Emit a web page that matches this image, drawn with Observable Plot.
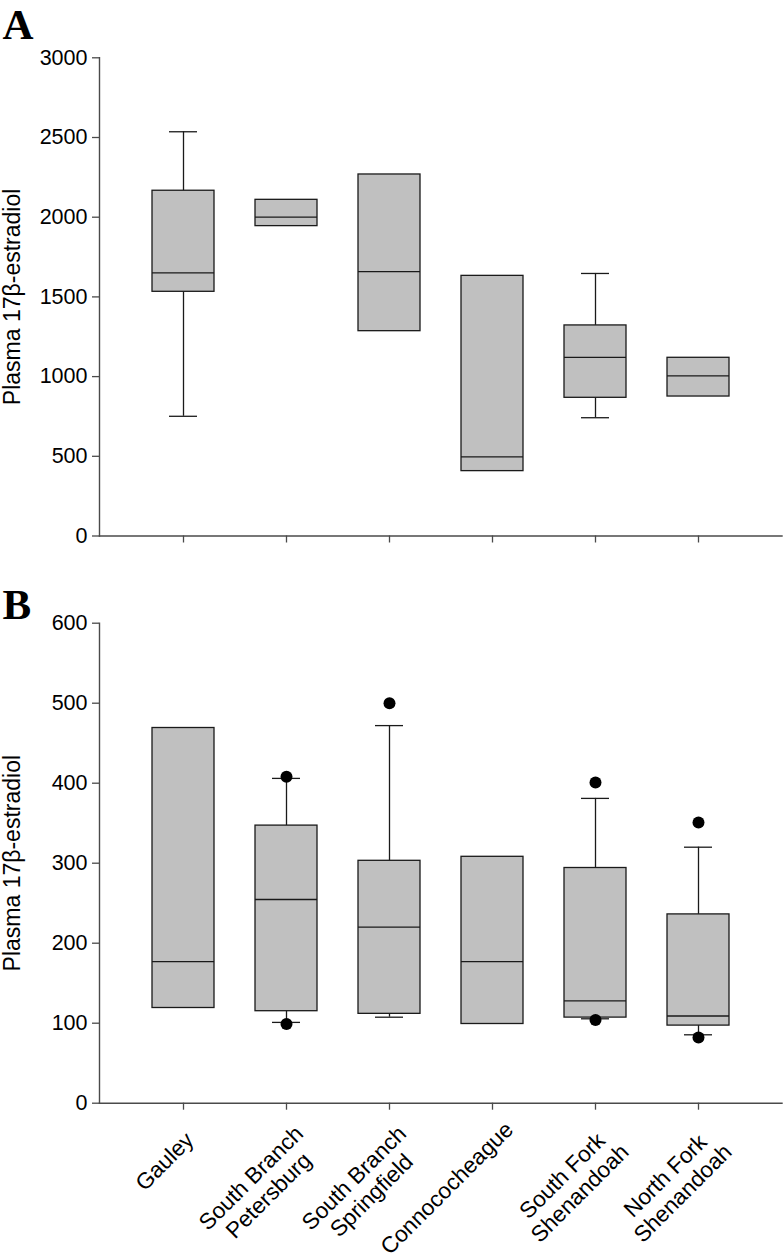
<!DOCTYPE html>
<html>
<head>
<meta charset="utf-8">
<script src="https://cdn.jsdelivr.net/npm/d3@7"></script>
<script src="https://cdn.jsdelivr.net/npm/@observablehq/plot@0.6"></script>
<style>
  html, body { margin: 0; padding: 0; background: #fff; }
  #wrap { position: relative; width: 783px; height: 1258px; overflow: hidden; }
  svg { display: block; }
</style>
</head>
<body>
<div id="wrap"></div>
<script>
// ---- categories ----
const categories = [
  "Gauley",
  "South Branch\nPetersburg",
  "South Branch\nSpringfield",
  "Connococheague",
  "South Fork\nShenandoah",
  "North Fork\nShenandoah"
];

// ---- Panel A values ----
const aMin = [751, null, null, null, 742, null];
const aQ1  = [1532, 1944, 1285, 407, 867, 875];
const aMed = [1651, 2000, 1659, 497, 1120, 1005];
const aQ3  = [2166, 2109, 2268, 1632, 1321, 1118];
const aMax = [2536, null, null, null, 1647, null];
const aOutCat = [];
const aOutVal = [];
const yTicksA = [0, 500, 1000, 1500, 2000, 2500, 3000];

// ---- Panel B values ----
const bMin = [null, 101, 107.5, null, 105.5, 85.5];
const bQ1  = [119, 115, 111.7, 99, 107, 97];
const bMed = [177, 254.6, 220, 177, 128, 109];
const bQ3  = [469, 347, 303, 308, 294, 236];
const bMax = [null, 406, 472, null, 381, 320];
const bOutCat = ["South Branch\nPetersburg", "South Branch\nPetersburg", "South Branch\nSpringfield",
                 "South Fork\nShenandoah", "South Fork\nShenandoah", "North Fork\nShenandoah", "North Fork\nShenandoah"];
const bOutVal = [408, 99, 500, 401, 104, 351, 82];
const yTicksB = [0, 100, 200, 300, 400, 500, 600];

const yLabel = "Plasma 17β-estradiol";
const FONT = "'Liberation Sans', Arial, sans-serif";

function panel({letter, mins, q1s, meds, q3s, maxs, outCat, outVal, yTicks, height, marginTop, marginBottom, showLabels}) {
  const rows = categories.map((c, i) => ({cat: c, min: mins[i], q1: q1s[i], med: meds[i], q3: q3s[i], max: maxs[i]}));
  const outs = outCat.map((c, i) => ({cat: c, value: outVal[i]}));
  const withMax = rows.filter(d => d.max != null);
  const withMin = rows.filter(d => d.min != null);
  const boxStroke = "#1a1a1a";
  const axisStroke = "#4a4a4a";
  const marks = [
    Plot.ruleX(withMax, {x: "cat", y1: "q3", y2: "max", stroke: boxStroke, strokeWidth: 1.3}),
    Plot.ruleX(withMin, {x: "cat", y1: "min", y2: "q1", stroke: boxStroke, strokeWidth: 1.3}),
    Plot.tickY(withMax, {x: "cat", y: "max", inset: 17, stroke: boxStroke, strokeWidth: 1.3}),
    Plot.tickY(withMin, {x: "cat", y: "min", inset: 17, stroke: boxStroke, strokeWidth: 1.3}),
    Plot.barY(rows, {x: "cat", y1: "q1", y2: "q3", fill: "#c0c0c0", stroke: boxStroke, strokeWidth: 1.3}),
    Plot.tickY(rows, {x: "cat", y: "med", stroke: boxStroke, strokeWidth: 1.3}),
    Plot.dot(outs, {x: "cat", y: "value", r: 6, fill: "#000", stroke: "none"}),
    Plot.frame({anchor: "left", stroke: axisStroke, strokeWidth: 1.4}),
    Plot.frame({anchor: "bottom", stroke: axisStroke, strokeWidth: 1.4}),
    Plot.axisY({ticks: yTicks, tickSize: 7, tickPadding: 5, fontSize: 21.5, stroke: axisStroke, strokeWidth: 1.3, label: null, tickFormat: d => String(d)}),
    Plot.axisX({tickSize: 7, tickFormat: () => "", stroke: axisStroke, strokeWidth: 1.3, label: null}),
    Plot.text([yLabel], {frameAnchor: "left", text: d => d, rotate: -90, textAnchor: "middle", lineAnchor: "top", dx: -96, fontSize: 23, fill: "#000"}),
    Plot.text([letter], {frameAnchor: "top-left", text: d => d, textAnchor: "start", lineAnchor: "middle", dx: 2 - 99, dy: 25 - marginTop,
      fontSize: 43, fontWeight: "bold", fontFamily: "'Liberation Serif', 'Times New Roman', serif", fill: "#000"})
  ];
  if (showLabels) {
    marks.push(Plot.text(categories, {x: d => d, frameAnchor: "bottom", text: d => d, rotate: -45, textAnchor: "end", lineAnchor: "top",
      dx: -8, dy: 33, fontSize: 22.5, fill: "#000", lineHeight: 1.1, className: "cat-labels"}));
  }
  return Plot.plot({
    width: 783,
    height,
    marginLeft: 99,
    marginRight: 1.5,
    marginTop,
    marginBottom,
    style: {fontFamily: FONT, color: "#000", background: "#fff", overflow: "visible"},
    x: {type: "band", domain: categories, paddingInner: 0.397, paddingOuter: 0.4985, axis: null},
    y: {domain: [yTicks[0], yTicks[yTicks.length - 1]], axis: null},
    marks
  });
}

const wrap = document.getElementById("wrap");
wrap.appendChild(panel({letter: "A", mins: aMin, q1s: aQ1, meds: aMed, q3s: aQ3, maxs: aMax, outCat: aOutCat, outVal: aOutVal,
  yTicks: yTicksA, height: 580, marginTop: 57.3, marginBottom: 44.5, showLabels: false}));
const chartB = panel({letter: "B", mins: bMin, q1s: bQ1, meds: bMed, q3s: bQ3, maxs: bMax, outCat: bOutCat, outVal: bOutVal,
  yTicks: yTicksB, height: 678, marginTop: 42.7, marginBottom: 155.3, showLabels: true});
wrap.appendChild(chartB);

// Category labels as in the original: lines centred on each other, the block
// slid along its own direction in proportion to its width.
chartB.querySelectorAll(".cat-labels text").forEach(t => {
  const spans = t.querySelectorAll("tspan");
  if (spans.length < 2) {
    const w = t.getComputedTextLength();
    t.setAttribute("x", 0.141 * w);
    return;
  }
  const widths = Array.from(spans, s => s.getComputedTextLength());
  const maxW = Math.max(...widths);
  t.setAttribute("text-anchor", "middle");
  spans.forEach(s => s.setAttribute("x", 0.141 * maxW - maxW / 2));
});
</script>
</body>
</html>
